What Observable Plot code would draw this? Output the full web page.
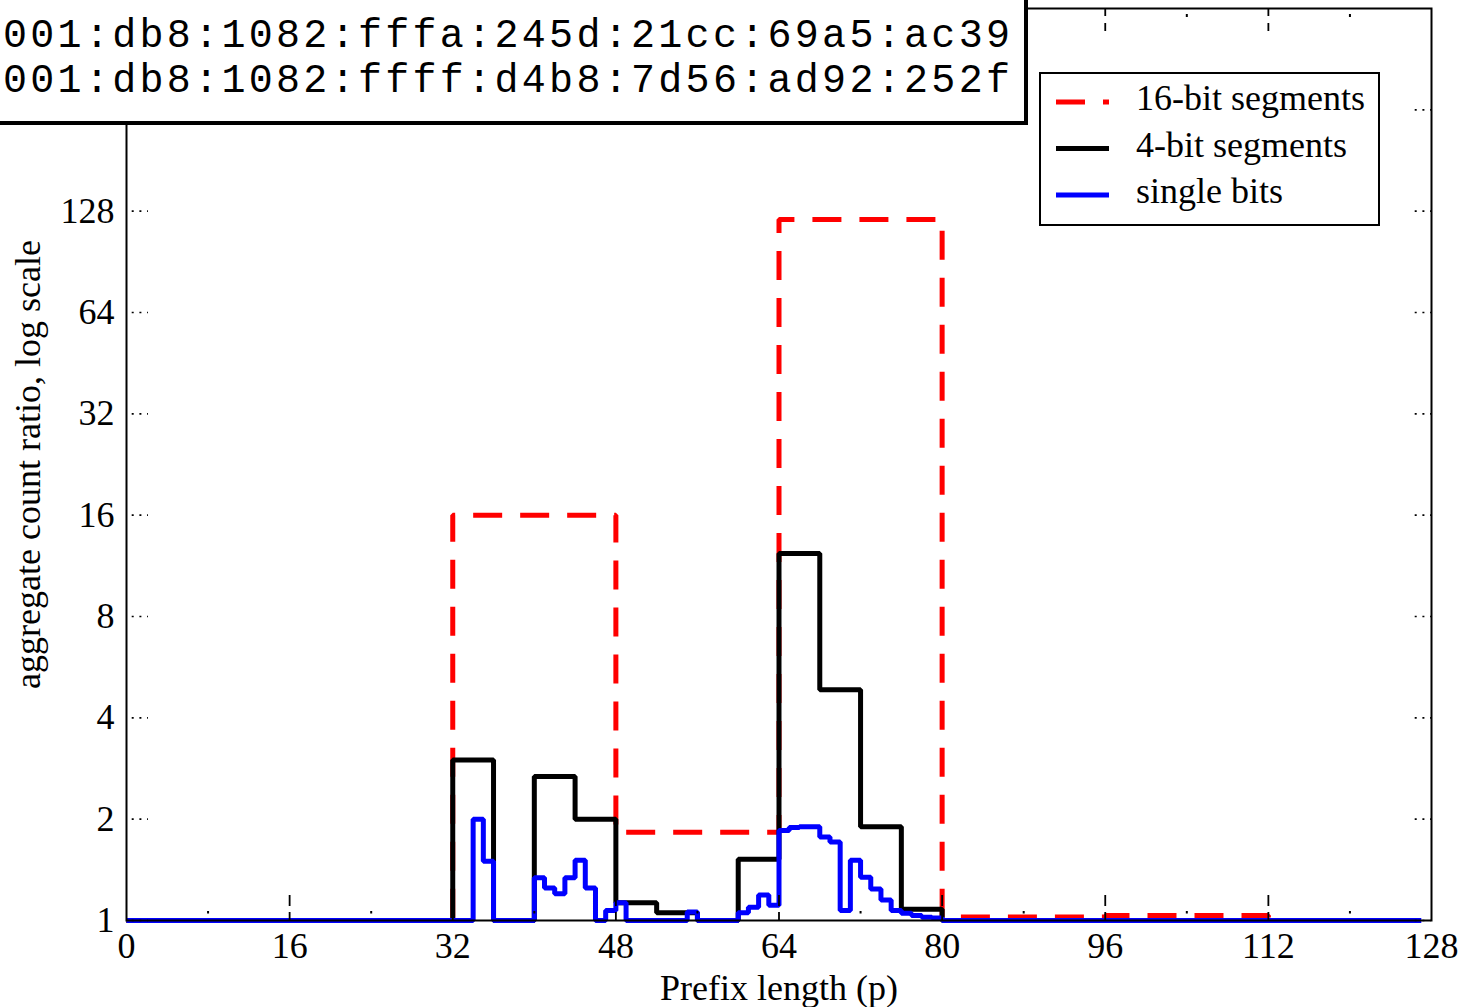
<!DOCTYPE html>
<html>
<head>
<meta charset="utf-8">
<script src="https://cdn.jsdelivr.net/npm/d3@7"></script>
<script src="https://cdn.jsdelivr.net/npm/@observablehq/plot@0.6"></script>
<style>
  html, body { margin: 0; padding: 0; background: #fff; overflow: hidden; }
  #chart { width: 1468px; height: 1007px; overflow: hidden; }
  #chart svg { overflow: hidden; max-width: none; }
</style>
</head>
<body>
<div id="chart"></div>
<script>
// ---- text ----
const addressLines = [
  "001:db8:1082:fffa:245d:21cc:69a5:ac39",
  "001:db8:1082:ffff:d4b8:7d56:ad92:252f"
];
const seriesNames = ["16-bit segments", "4-bit segments", "single bits"];
const seriesColors = ["#ff0000", "#000000", "#0000ff"];
const xLabel = "Prefix length (p)";
const yLabel = "aggregate count ratio, log scale";

// ---- ticks ----
const xTickLabels = [0, 16, 32, 48, 64, 80, 96, 112, 128];
const xMajorTicks = [16, 32, 48, 64, 80, 96, 112];
const xMinorTicks = [8, 24, 40, 56, 72, 88, 104, 120];
const yTickLabels = [1, 2, 4, 8, 16, 32, 64, 128];
const yTickMarks = [1, 2, 4, 8, 16, 32, 64, 128, 256];

// ---- 16-bit segments (start bit, ratio) ----
const seg16Start = [0, 16, 32, 48, 64, 80, 96, 112];
const seg16Ratio = [1, 1, 16, 1.83, 121, 1.025, 1.035, 1.005];

// ---- 4-bit segments ----
const seg4Start = [0, 4, 8, 12, 16, 20, 24, 28, 32, 36, 40, 44, 48, 52, 56, 60,
                   64, 68, 72, 76, 80, 84, 88, 92, 96, 100, 104, 108, 112, 116, 120, 124];
const seg4Ratio = [1, 1, 1, 1, 1, 1, 1, 1, 3.0, 1, 2.68, 2.0, 1.13, 1.055, 1, 1.52,
                   12.3, 4.85, 1.9, 1.08, 1, 1, 1, 1, 1, 1, 1, 1, 1, 1, 1, 1];

// ---- single bits (bit position 0..127) ----
const bitRatio = [
  1, 1, 1, 1, 1, 1, 1, 1, 1, 1, 1, 1, 1, 1, 1, 1,
  1, 1, 1, 1, 1, 1, 1, 1, 1, 1, 1, 1, 1, 1, 1, 1,
  1, 1, 2.0, 1.5, 1, 1, 1, 1, 1.34, 1.25, 1.2, 1.34, 1.51, 1.25, 1, 1.07,
  1.13, 1, 1, 1, 1, 1, 1, 1.06, 1, 1, 1, 1, 1.055, 1.095, 1.19, 1.11,
  1.85, 1.89, 1.9, 1.9, 1.77, 1.71, 1.07, 1.51, 1.345, 1.24, 1.15, 1.07, 1.05, 1.035, 1.023, 1.018,
  1, 1, 1, 1, 1, 1, 1, 1, 1, 1, 1, 1, 1, 1, 1, 1,
  1, 1, 1, 1, 1, 1, 1, 1, 1, 1, 1, 1, 1, 1, 1, 1,
  1, 1, 1, 1, 1, 1, 1, 1, 1, 1, 1, 1, 1, 1, 1, 1
];
const bitStart = bitRatio.map((_, i) => i);

const seg16 = seg16Start.map((p, i) => ({p, v: seg16Ratio[i]}));
const seg4 = seg4Start.map((p, i) => ({p, v: seg4Ratio[i]}));
const bits = bitStart.map((p, i) => ({p, v: bitRatio[i]}));

const W = 1468, H = 1007;
const mL = 126, mR = 37, mT = 8, mB = 87;
const fw = W - mL - mR, fh = H - mT - mB;
const serif = "'Liberation Serif', 'Times New Roman', Times, serif";

const lineStyle = {x: "p", y: "v", curve: "step-after", strokeWidth: 5, strokeLinejoin: "miter", strokeLinecap: "butt"};

const plot = Plot.plot({
  width: W,
  height: H,
  marginLeft: mL, marginRight: mR, marginTop: mT, marginBottom: mB,
  style: {fontFamily: serif, fontSize: "36px", background: "white", color: "black"},
  x: {domain: [0, 128]},
  y: {type: "log", base: 2, domain: [1, 512]},
  marks: [
    Plot.line(seg16, {...lineStyle, stroke: seriesColors[0], strokeDasharray: "29,18"}),
    Plot.line(seg4, {...lineStyle, stroke: seriesColors[1]}),
    Plot.line(bits, {...lineStyle, stroke: seriesColors[2]}),
    // y ticks, dotted, inside left and right
    Plot.tickY(yTickMarks, {y: d => d, insetRight: fw - 22, stroke: "black", strokeWidth: 1.6, strokeDasharray: "2,5.7", strokeDashoffset: 2}),
    Plot.tickY(yTickMarks, {y: d => d, insetLeft: fw - 22, stroke: "black", strokeWidth: 1.6, strokeDasharray: "2,5.7", strokeDashoffset: 2}),
    // x major ticks, bottom and top
    Plot.tickX(xMajorTicks, {x: d => d, insetTop: fh - 25, stroke: "black", strokeWidth: 1.8, strokeDasharray: "11,6"}),
    Plot.tickX(xMajorTicks, {x: d => d, insetBottom: fh - 25, stroke: "black", strokeWidth: 1.8, strokeDasharray: "8,7"}),
    // x minor ticks (dots)
    Plot.tickX(xMinorTicks, {x: d => d, insetTop: fh - 10, stroke: "black", strokeWidth: 2, strokeDasharray: "0,1,2.5,20"}),
    Plot.tickX(xMinorTicks, {x: d => d, insetBottom: fh - 10, stroke: "black", strokeWidth: 2, strokeDasharray: "0,6,3,20"}),
    Plot.frame({stroke: "black", strokeWidth: 2}),
    Plot.axisY({ticks: yTickLabels, tickSize: 0, tickPadding: 12, tickFormat: d => String(d),
                label: yLabel, labelAnchor: "center", labelOffset: 112, labelArrow: "none"}),
    Plot.axisX({ticks: xTickLabels, tickSize: 0, tickPadding: 12, tickFormat: d => String(d),
                label: xLabel, labelAnchor: "center", labelOffset: 79, labelArrow: "none"})
  ]
});

document.getElementById("chart").appendChild(plot);

const svg = d3.select(plot);

// address text box (top-left, partly off the figure)
const tb = svg.append("g").attr("class", "address-box").attr("text-anchor", "start");
tb.append("rect")
  .attr("x", -10).attr("y", -10).attr("width", 1036).attr("height", 133)
  .attr("fill", "white").attr("stroke", "black").attr("stroke-width", 4);
tb.selectAll("text").data(addressLines).join("text")
  .attr("x", 3)
  .attr("y", (d, i) => 47 + i * 45)
  .attr("text-anchor", "start")
  .attr("font-family", "'Liberation Mono', 'DejaVu Sans Mono', monospace")
  .attr("font-size", "40px")
  .attr("letter-spacing", "3.3px")
  .attr("fill", "black")
  .text(d => d);

// legend
const lg = svg.append("g").attr("class", "legend").attr("text-anchor", "start");
lg.append("rect")
  .attr("x", 1040).attr("y", 73).attr("width", 339).attr("height", 152)
  .attr("fill", "white").attr("stroke", "black").attr("stroke-width", 2);
const rows = lg.selectAll("g.row").data(seriesNames).join("g")
  .attr("class", "row")
  .attr("transform", (d, i) => `translate(0, ${102 + i * 46.5})`);
rows.append("line")
  .attr("x1", 1056).attr("x2", 1109).attr("y1", 0).attr("y2", 0)
  .attr("stroke", (d, i) => seriesColors[i])
  .attr("stroke-width", 5)
  .attr("stroke-dasharray", (d, i) => i === 0 ? "29,18" : null);
rows.append("text")
  .attr("x", 1136).attr("y", 8)
  .attr("text-anchor", "start")
  .attr("font-family", serif)
  .attr("font-size", "36px")
  .attr("fill", "black")
  .text(d => d);
</script>
</body>
</html>
